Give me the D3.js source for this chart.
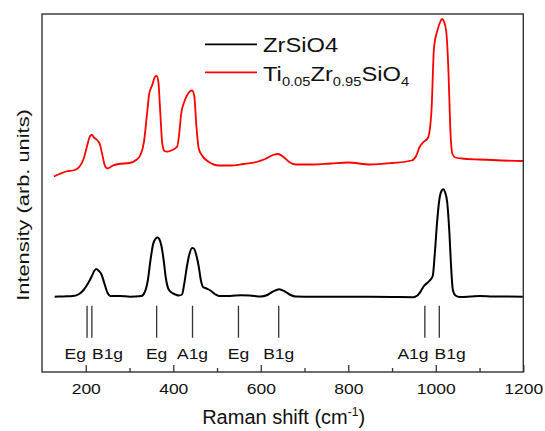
<!DOCTYPE html>
<html><head><meta charset="utf-8">
<script src="https://cdn.jsdelivr.net/npm/d3@7"></script>
<style>body{margin:0;background:#fff}svg{display:block}</style>
</head><body>
<svg id="chart" width="545" height="431"></svg>
<script>
// ---- data (Raman shift cm-1, intensity arb. units) ----
const zrSiO4 = [[129,75.3],[150,75.6],[171,76],[185,78],[195,82],[205,88.5],[213,95],[220,101.5],[224,103],[229,101.5],[236,97.5],[243,88],[250,79],[256,76],[278,76],[301,75.3],[327,76],[335,80],[342,92],[348,112],[354,128],[360,133.5],[364,134.5],[368,133],[373,126],[378,112],[383,94],[389,83],[396,79.5],[405,77.5],[413,76.5],[420,77.5],[425,88],[431,105],[437,118],[443,124],[447,123.5],[452,118],[458,106],[463,92],[468,85],[476,83.5],[485,81.5],[495,78],[505,76],[530,76],[555,76.8],[575,76.5],[600,75.5],[615,77],[628,80.5],[642,82.7],[655,80.5],[668,77],[680,75.5],[720,75.3],[800,75.3],[900,75],[948,74.8],[958,76.5],[966,81],[972,85.5],[985,91],[993,96],[998,120],[1003,150],[1008,172],[1013,181],[1017,182.7],[1021,180],[1026,170],[1031,140],[1035,105],[1039,82],[1045,76.5],[1055,75],[1080,75.5],[1101,76],[1130,75.5],[1199,75.3]];

const tiZrSiO4 = [[127,195.5],[140,198],[155,200.5],[175,202],[185,205],[195,213],[203,226],[210,236],[214,237],[220,234],[226,232],[232,228],[238,217],[244,206],[250,203.5],[262,206.5],[275,208],[300,209],[315,212],[325,217],[333,230],[340,258],[345,278],[352,287],[358,295],[362,296],[366,290],[370,262],[375,228],[380,221],[386,220.3],[398,222],[409,225.5],[414,240],[418,258],[425,270],[432,277],[439,281],[443,281.5],[448,276],[453,245],[458,224],[465,217],[480,210.5],[505,206.5],[530,206.5],[560,208],[590,210],[610,213],[628,217],[639,218],[652,215],[665,210],[680,207.5],[720,207.5],[760,208.5],[800,209.5],[850,207.5],[900,209],[945,211.5],[955,216],[963,225],[972,230],[982,234],[990,260],[996,325],[1004,342],[1010,350],[1014,353],[1019,350],[1024,340],[1029,300],[1033,245],[1038,218],[1045,214.5],[1060,213.5],[1100,212.5],[1150,211.5],[1200,211]];

const modeShifts = [203, 214, 362, 444, 549, 641, 975, 1008];
const modeLabels = ["Eg", "B1g", "Eg", "A1g", "Eg", "B1g", "A1g", "B1g"];
const xTicks = [200, 400, 600, 800, 1000, 1200];
const xMinorTicks = [300, 500, 700, 900, 1100];
const seriesNames = ["ZrSiO4", "Ti0.05Zr0.95SiO4"];
const seriesColors = ["#000000", "#ff0000"];

// ---- layout ----
const FONT = "'Liberation Sans', Arial, Helvetica, sans-serif";
const SX = 1.13; // horizontal stretch of text in reference
const L = 42, R = 523.3, T = 14, B = 372;
const svg = d3.select("#chart");
const x = d3.scaleLinear().domain([100, 1200]).range([L, R]);
const y = d3.scaleLinear().domain([0, 358]).range([B, T]);

// curves
const line = d3.line().x(d => x(d[0])).y(d => y(d[1])).curve(d3.curveMonotoneX);
[zrSiO4, tiZrSiO4].forEach((s, i) => {
  svg.append("path").datum(s).attr("d", line)
    .attr("fill", "none").attr("stroke", seriesColors[i])
    .attr("stroke-width", i === 0 ? 2.0 : 1.8).attr("stroke-linejoin", "round");
});

// mode markers
const lineTop = 66.3, lineBot = 34.3, labY = 13;
const mg = svg.append("g").attr("stroke", "#333").attr("stroke-width", 1.3);
modeShifts.forEach(v => {
  mg.append("line").attr("x1", x(v)).attr("x2", x(v)).attr("y1", y(lineTop)).attr("y2", y(lineBot));
});
// label placement: close pairs are split around their midpoint
modeShifts.forEach((v, i) => {
  let px = x(v), anchor = "middle";
  const prev = modeShifts[i - 1], next = modeShifts[i + 1];
  if (next !== undefined && next - v < 40) { px = (x(v) + x(next)) / 2 - 3.5; anchor = "end"; }
  else if (prev !== undefined && v - prev < 40) { px = (x(v) + x(prev)) / 2 + 2.5; anchor = "start"; }
  svg.append("text").attr("transform", `translate(${px},${y(labY)}) scale(${SX},1)`)
    .attr("text-anchor", anchor).attr("font-family", FONT).attr("font-size", 15.5)
    .attr("fill", "#111").text(modeLabels[i]);
});

// axis
const ax = svg.append("g").attr("transform", `translate(0,${B})`)
  .call(d3.axisBottom(x).tickValues(xTicks).tickSizeInner(-7).tickSizeOuter(0).tickPadding(11.3).tickFormat(d3.format("d")));
ax.select(".domain").remove();
ax.selectAll(".tick line").attr("stroke", "#333").attr("stroke-width", 1.3);
ax.selectAll(".tick text").attr("font-family", FONT).attr("font-size", 15.5).attr("fill", "#111")
  .attr("transform", `scale(${SX},1)`);
const axm = svg.append("g").attr("transform", `translate(0,${B})`)
  .call(d3.axisBottom(x).tickValues(xMinorTicks).tickSizeInner(-4).tickSizeOuter(0).tickFormat(""));
axm.select(".domain").remove();
axm.selectAll(".tick line").attr("stroke", "#333").attr("stroke-width", 1.3);

// frame
svg.append("rect").attr("x", L).attr("y", T).attr("width", R - L).attr("height", B - T)
  .attr("fill", "none").attr("stroke", "#333").attr("stroke-width", 1.4);

// axis titles
const xt = svg.append("text").attr("transform", `translate(${(L + R) / 2 + 1},424)`)
  .attr("text-anchor", "middle").attr("font-family", FONT).attr("font-size", 20).attr("fill", "#111");
xt.append("tspan").text("Raman shift (cm");
xt.append("tspan").attr("font-size", 12).attr("dy", -8).text("-1");
xt.append("tspan").attr("dy", 8).text(")");

svg.append("text").attr("transform", `translate(29,205) rotate(-90) scale(1.04,0.8)`)
  .attr("text-anchor", "middle").attr("font-family", FONT).attr("font-size", 21).attr("fill", "#111")
  .text("Intensity (arb. units)");

// legend
const lg = svg.append("g");
const legY = [44.3, 72.3];
seriesNames.forEach((n, i) => {
  lg.append("line").attr("x1", 205).attr("x2", 257).attr("y1", legY[i]).attr("y2", legY[i])
    .attr("stroke", seriesColors[i]).attr("stroke-width", 1.8);
});
lg.append("text").attr("transform", `translate(263,51.7) scale(${SX},1)`)
  .attr("font-family", FONT).attr("font-size", 21).attr("fill", "#111").text(seriesNames[0]);
const t2 = lg.append("text").attr("transform", `translate(263,80.5) scale(${SX},1)`)
  .attr("font-family", FONT).attr("font-size", 21).attr("fill", "#111");
const parts = seriesNames[1].match(/[A-Za-z]+|[0-9.]+/g);
parts.forEach(p => {
  const sub = /^[0-9.]+$/.test(p);
  t2.append("tspan").attr("font-size", sub ? 13 : 21)
    .attr("baseline-shift", sub ? -6 : null).text(p);
});
</script>
</body></html>
